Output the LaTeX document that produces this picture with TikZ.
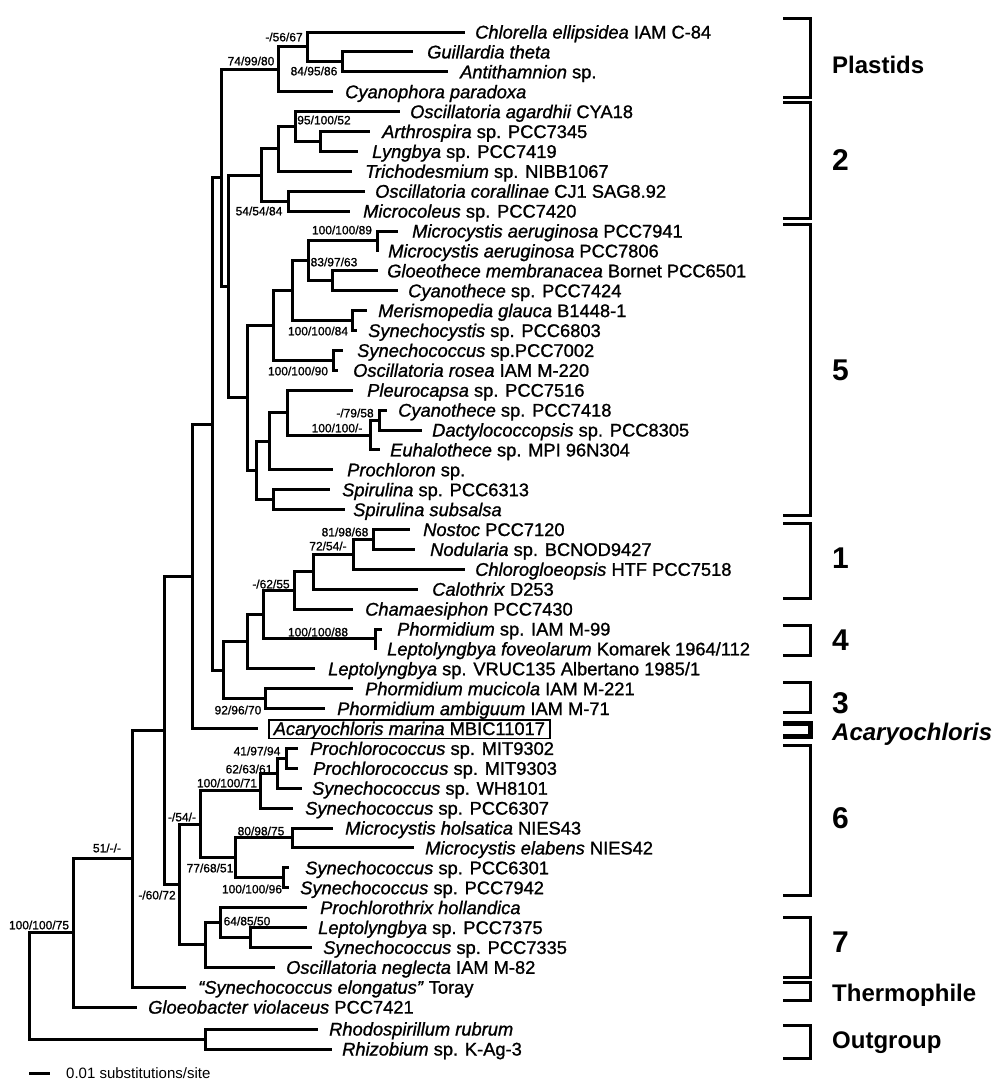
\documentclass[tikz,border=0pt]{standalone}
\usepackage{fontspec}
\setmainfont{Liberation Sans}
\newfontfamily\leaffont{Liberation Sans}[FakeBold=1.1]
\tikzset{
 br/.style={line width=3pt},
 leaflab/.style={anchor=base west, inner sep=0pt, font=\leaffont\fontsize{18.3}{20}\selectfont},
 bootl/.style={inner sep=0pt, anchor=center, text height=8.6pt, text depth=0pt, font=\leaffont\fontsize{12}{13}\selectfont},
 grplab/.style={anchor=west, inner sep=0pt, text height=17.2pt, text depth=0pt, font=\bfseries\fontsize{24}{26}\selectfont},
 grpnum/.style={anchor=west, inner sep=0pt, text height=21.5pt, text depth=0pt, font=\bfseries\fontsize{30}{32}\selectfont},
 bracket/.style={line width=3pt},
 boxlab/.style={draw, line width=1.5pt, anchor=base west, inner xsep=5pt, inner ysep=1.5pt, text height=13.3pt, text depth=2pt, font=\leaffont\fontsize{18.3}{20}\selectfont},
}
\newcommand{\tleaf}[5]{\coordinate (#1) at (#3,#2); \node[leaflab] (#1-t) at (#4,#2+6.5) {#5};}
\newcommand{\kids}[2]{\foreach \ch in {#2}{\draw[br] (#1) |- (\ch);}}
\newcommand{\bootlab}[4]{\node[bootl] (#1) at (#2,#3) {#4};}
\newcommand{\grpbr}[4][bracket]{\coordinate (#2-t) at (783,#3); \coordinate (#2-b) at (783,#4); \coordinate (#2-v) at (810,#3);
 \draw[#1] (#2-t) -- (#2-v) |- (#2-b);}
\begin{document}
\begin{tikzpicture}[x=1pt,y=-1pt]
\useasboundingbox (0,0) rectangle (1003,1080);
% ---------- leaves ----------
\tleaf{l1}{32.0}{465}{475}{\textit{Chlorella ellipsidea} IAM C-84}
\tleaf{l2}{51.9}{413}{427}{\textit{Guillardia theta}}
\tleaf{l3}{71.8}{448}{460}{\textit{Antithamnion} sp.}
\tleaf{l4}{91.7}{333}{345}{\textit{Cyanophora paradoxa}}
\tleaf{l5}{111.6}{400}{410}{\textit{Oscillatoria agardhii} CYA18}
\tleaf{l6}{131.5}{370}{382}{\textit{Arthrospira} sp. PCC7345}
\tleaf{l7}{151.4}{358}{372}{\textit{Lyngbya} sp. PCC7419}
\tleaf{l8}{171.3}{352}{365}{\textit{Trichodesmium} sp. NIBB1067}
\tleaf{l9}{191.2}{365}{375}{\textit{Oscillatoria corallinae} CJ1 SAG8.92}
\tleaf{l10}{211.1}{350}{363}{\textit{Microcoleus} sp. PCC7420}
\tleaf{l11}{231.0}{398}{412}{\textit{Microcystis aeruginosa} PCC7941}
\tleaf{l12}{250.9}{379}{388}{\textit{Microcystis aeruginosa} PCC7806}
\tleaf{l13}{270.8}{378}{387}{\textit{Gloeothece membranacea} Bornet PCC6501}
\tleaf{l14}{290.7}{398}{408}{\textit{Cyanothece} sp. PCC7424}
\tleaf{l15}{310.6}{367}{378}{\textit{Merismopedia glauca} B1448-1}
\tleaf{l16}{330.5}{357}{368}{\textit{Synechocystis} sp. PCC6803}
\tleaf{l17}{350.4}{343}{357}{\textit{Synechococcus} sp.PCC7002}
\tleaf{l18}{370.3}{338}{353}{\textit{Oscillatoria rosea} IAM M-220}
\tleaf{l19}{390.2}{353}{367}{\textit{Pleurocapsa} sp. PCC7516}
\tleaf{l20}{410.1}{387}{398}{\textit{Cyanothece} sp. PCC7418}
\tleaf{l21}{430.0}{422}{432}{\textit{Dactylococcopsis} sp. PCC8305}
\tleaf{l22}{449.9}{380}{390}{\textit{Euhalothece} sp. MPI 96N304}
\tleaf{l23}{469.8}{333}{347}{\textit{Prochloron} sp.}
\tleaf{l24}{489.7}{330}{342}{\textit{Spirulina} sp. PCC6313}
\tleaf{l25}{509.6}{345}{353}{\textit{Spirulina subsalsa}}
\tleaf{l26}{529.5}{410}{423}{\textit{Nostoc} PCC7120}
\tleaf{l27}{549.4}{415}{430}{\textit{Nodularia} sp. BCNOD9427}
\tleaf{l28}{569.3}{465}{475}{\textit{Chlorogloeopsis} HTF PCC7518}
\tleaf{l29}{589.2}{418}{432}{\textit{Calothrix} D253}
\tleaf{l30}{609.1}{353}{365}{\textit{Chamaesiphon} PCC7430}
\tleaf{l31}{629.0}{382}{397}{\textit{Phormidium} sp. IAM M-99}
\tleaf{l32}{648.9}{377}{387}{\textit{Leptolyngbya foveolarum} Komarek 1964/112}
\tleaf{l33}{668.8}{315}{328}{\textit{Leptolyngbya} sp. VRUC135 Albertano 1985/1}
\tleaf{l34}{688.7}{353}{365}{\textit{Phormidium mucicola} IAM M-221}
\tleaf{l35}{708.6}{325}{337}{\textit{Phormidium ambiguum} IAM M-71}
\coordinate (l36) at (258,728.5);
\node[boxlab] (l36-t) at (268,735) {\textit{Acaryochloris marina} MBIC11017};
\tleaf{l37}{748.4}{298}{310}{\textit{Prochlorococcus} sp. MIT9302}
\tleaf{l38}{768.3}{298}{313}{\textit{Prochlorococcus} sp. MIT9303}
\tleaf{l39}{788.2}{302}{312}{\textit{Synechococcus} sp. WH8101}
\tleaf{l40}{808.1}{293}{305}{\textit{Synechococcus} sp. PCC6307}
\tleaf{l41}{828.0}{333}{345}{\textit{Microcystis holsatica} NIES43}
\tleaf{l42}{847.9}{414}{425}{\textit{Microcystis elabens} NIES42}
\tleaf{l43}{867.8}{289}{305}{\textit{Synechococcus} sp. PCC6301}
\tleaf{l44}{887.7}{289}{300}{\textit{Synechococcus} sp. PCC7942}
\tleaf{l45}{907.6}{307}{320}{\textit{Prochlorothrix hollandica}}
\tleaf{l46}{927.5}{307}{318}{\textit{Leptolyngbya} sp. PCC7375}
\tleaf{l47}{947.4}{312}{323}{\textit{Synechococcus} sp. PCC7335}
\tleaf{l48}{967.3}{275}{286}{\textit{Oscillatoria neglecta} IAM M-82}
\tleaf{l49}{987.2}{186}{198}{\textit{“Synechococcus elongatus”} Toray}
\tleaf{l50}{1007.1}{137}{148}{\textit{Gloeobacter violaceus} PCC7421}
\tleaf{l51}{1029}{318}{329}{\textit{Rhodospirillum rubrum}}
\tleaf{l52}{1049}{332}{342}{\textit{Rhizobium} sp. K-Ag-3}
% ---------- internal nodes ----------
\coordinate (R) at (342,61.85);
\coordinate (Q) at (307,46.9);
\coordinate (P) at (278,69.3);
\coordinate (N) at (320,141.45);
\coordinate (M) at (295,126.5);
\coordinate (K) at (278,148.9);
\coordinate (L) at (288,201.15);
\coordinate (J) at (261,175.0);
\coordinate (Y) at (377,240.95);
\coordinate (Z) at (332,280.75);
\coordinate (W) at (308,260.85);
\coordinate (X) at (352,320.55);
\coordinate (U) at (292,290.7);
\coordinate (V) at (333,360.35);
\coordinate (S) at (273,325.5);
\coordinate (AF) at (379,420.05);
\coordinate (AE) at (370,435);
\coordinate (AD) at (287,412.6);
\coordinate (AA) at (269,441.2);
\coordinate (AB) at (273,499.65);
\coordinate (T) at (256,470.4);
\coordinate (I) at (247,397.95);
\coordinate (H) at (228,286.5);
\coordinate (F) at (221,177.9);
\coordinate (AK) at (373,539.45);
\coordinate (AL) at (353,554.4);
\coordinate (AM) at (313,571.8);
\coordinate (AI) at (294,590.45);
\coordinate (AJ) at (375,638.95);
\coordinate (AH) at (263,614.7);
\coordinate (AG) at (247,641.75);
\coordinate (AS) at (265,698.65);
\coordinate (G) at (223,670.2);
\coordinate (E) at (212,424.05);
\coordinate (D) at (192,576.3);
\coordinate (AT) at (286,758.35);
\coordinate (AU) at (277,773.3);
\coordinate (AV) at (260,790.7);
\coordinate (AW) at (292,837.95);
\coordinate (AX) at (283,877.75);
\coordinate (AY) at (235,857.85);
\coordinate (AO) at (200,824.3);
\coordinate (AR) at (250,937.45);
\coordinate (AQ) at (220,922.5);
\coordinate (AP) at (205,944.9);
\coordinate (AN) at (179,884.6);
\coordinate (C) at (164,730.45);
\coordinate (B) at (132,858.8);
\coordinate (A) at (73,932.95);
\coordinate (OG) at (205,1039);
\coordinate (RT) at (29,986);
% ---------- branches ----------
\kids{R}{l2,l3}
\kids{Q}{l1,R}
\kids{P}{Q,l4}
\kids{N}{l6,l7}
\kids{M}{l5,N}
\kids{K}{M,l8}
\kids{L}{l9,l10}
\kids{J}{K,L}
\kids{Y}{l11,l12}
\kids{Z}{l13,l14}
\kids{W}{Y,Z}
\kids{X}{l15,l16}
\kids{U}{W,X}
\kids{V}{l17,l18}
\kids{S}{U,V}
\kids{AF}{l20,l21}
\kids{AE}{AF,l22}
\kids{AD}{l19,AE}
\kids{AA}{AD,l23}
\kids{AB}{l24,l25}
\kids{T}{AA,AB}
\kids{I}{S,T}
\kids{H}{J,I}
\kids{F}{P,H}
\kids{AK}{l26,l27}
\kids{AL}{AK,l28}
\kids{AM}{AL,l29}
\kids{AI}{AM,l30}
\kids{AJ}{l31,l32}
\kids{AH}{AI,AJ}
\kids{AG}{AH,l33}
\kids{AS}{l34,l35}
\kids{G}{AG,AS}
\kids{E}{F,G}
\kids{D}{E,l36}
\kids{AT}{l37,l38}
\kids{AU}{AT,l39}
\kids{AV}{AU,l40}
\kids{AW}{l41,l42}
\kids{AX}{l43,l44}
\kids{AY}{AW,AX}
\kids{AO}{AV,AY}
\kids{AR}{l46,l47}
\kids{AQ}{l45,AR}
\kids{AP}{AQ,l48}
\kids{AN}{AO,AP}
\kids{C}{D,AN}
\kids{B}{C,l49}
\kids{A}{B,l50}
\kids{OG}{l51,l52}
\kids{RT}{A,OG}
% ---------- support values ----------
\bootlab{bQ}{284}{37}{-/56/67}
\bootlab{bP}{251}{61}{74/99/80}
\bootlab{bR}{314}{71}{84/95/86}
\bootlab{bM}{324}{120}{95/100/52}
\bootlab{bL}{259}{211}{54/54/84}
\bootlab{bY}{342}{230}{100/100/89}
\bootlab{bW}{334}{262}{83/97/63}
\bootlab{bX}{318}{331}{100/100/84}
\bootlab{bV}{298}{371}{100/100/90}
\bootlab{bAF}{355}{413}{-/79/58}
\bootlab{bAE}{337}{428}{100/100/-}
\bootlab{bAK}{345}{532}{81/98/68}
\bootlab{bAL}{328}{546}{72/54/-}
\bootlab{bAI}{271}{584}{-/62/55}
\bootlab{bAJ}{318}{632}{100/100/88}
\bootlab{bAS}{238}{710}{92/96/70}
\bootlab{bAT}{257}{751}{41/97/94}
\bootlab{bAU}{249}{769}{62/63/61}
\bootlab{bAV}{227}{783}{100/100/71}
\bootlab{bAO}{182}{817}{-/54/-}
\bootlab{bAW}{261}{831}{80/98/75}
\bootlab{bAY}{210}{868}{77/68/51}
\bootlab{bAX}{252}{889}{100/100/96}
\bootlab{bAN}{157}{895}{-/60/72}
\bootlab{bAQ}{247}{921}{64/85/50}
\bootlab{bA}{107}{848}{51/-/-}
\bootlab{bRT}{39}{925}{100/100/75}
% ---------- group brackets ----------
\grpbr{gPl}{18}{97}
\grpbr{g2}{102}{218}
\grpbr{g5}{224}{515}
\grpbr{g1}{523}{598}
\grpbr{g4}{625}{655}
\grpbr{g3}{682}{712}
\grpbr[line width=5pt]{gAc}{723}{736}
\grpbr{g6}{745}{895}
\grpbr{g7}{917}{977}
\grpbr{gTh}{982}{1000}
\grpbr{gOut}{1025}{1058}
\node[grplab] (tPl) at (832,65) {Plastids};
\node[grpnum] (t2) at (832,160) {2};
\node[grpnum] (t5) at (832,370) {5};
\node[grpnum] (t1) at (832,558) {1};
\node[grpnum] (t4) at (832,640) {4};
\node[grpnum] (t3) at (832,703) {3};
\node[grplab] (tAc) at (832,732) {\textit{Acaryochloris}};
\node[grpnum] (t6) at (832,818) {6};
\node[grpnum] (t7) at (832,942) {7};
\node[grplab] (tTh) at (832,993) {Thermophile};
\node[grplab] (tOut) at (832,1040) {Outgroup};
% ---------- scale bar ----------
\coordinate (sb1) at (29,1073);
\coordinate (sb2) at (50,1073);
\draw[br] (sb1) -- (sb2);
\node[anchor=west, inner sep=0pt, text height=10.7pt, text depth=0pt, font=\fontsize{15}{16}\selectfont] (sbt) at (66,1073) {0.01 substitutions/site};
\end{tikzpicture}
\end{document}
